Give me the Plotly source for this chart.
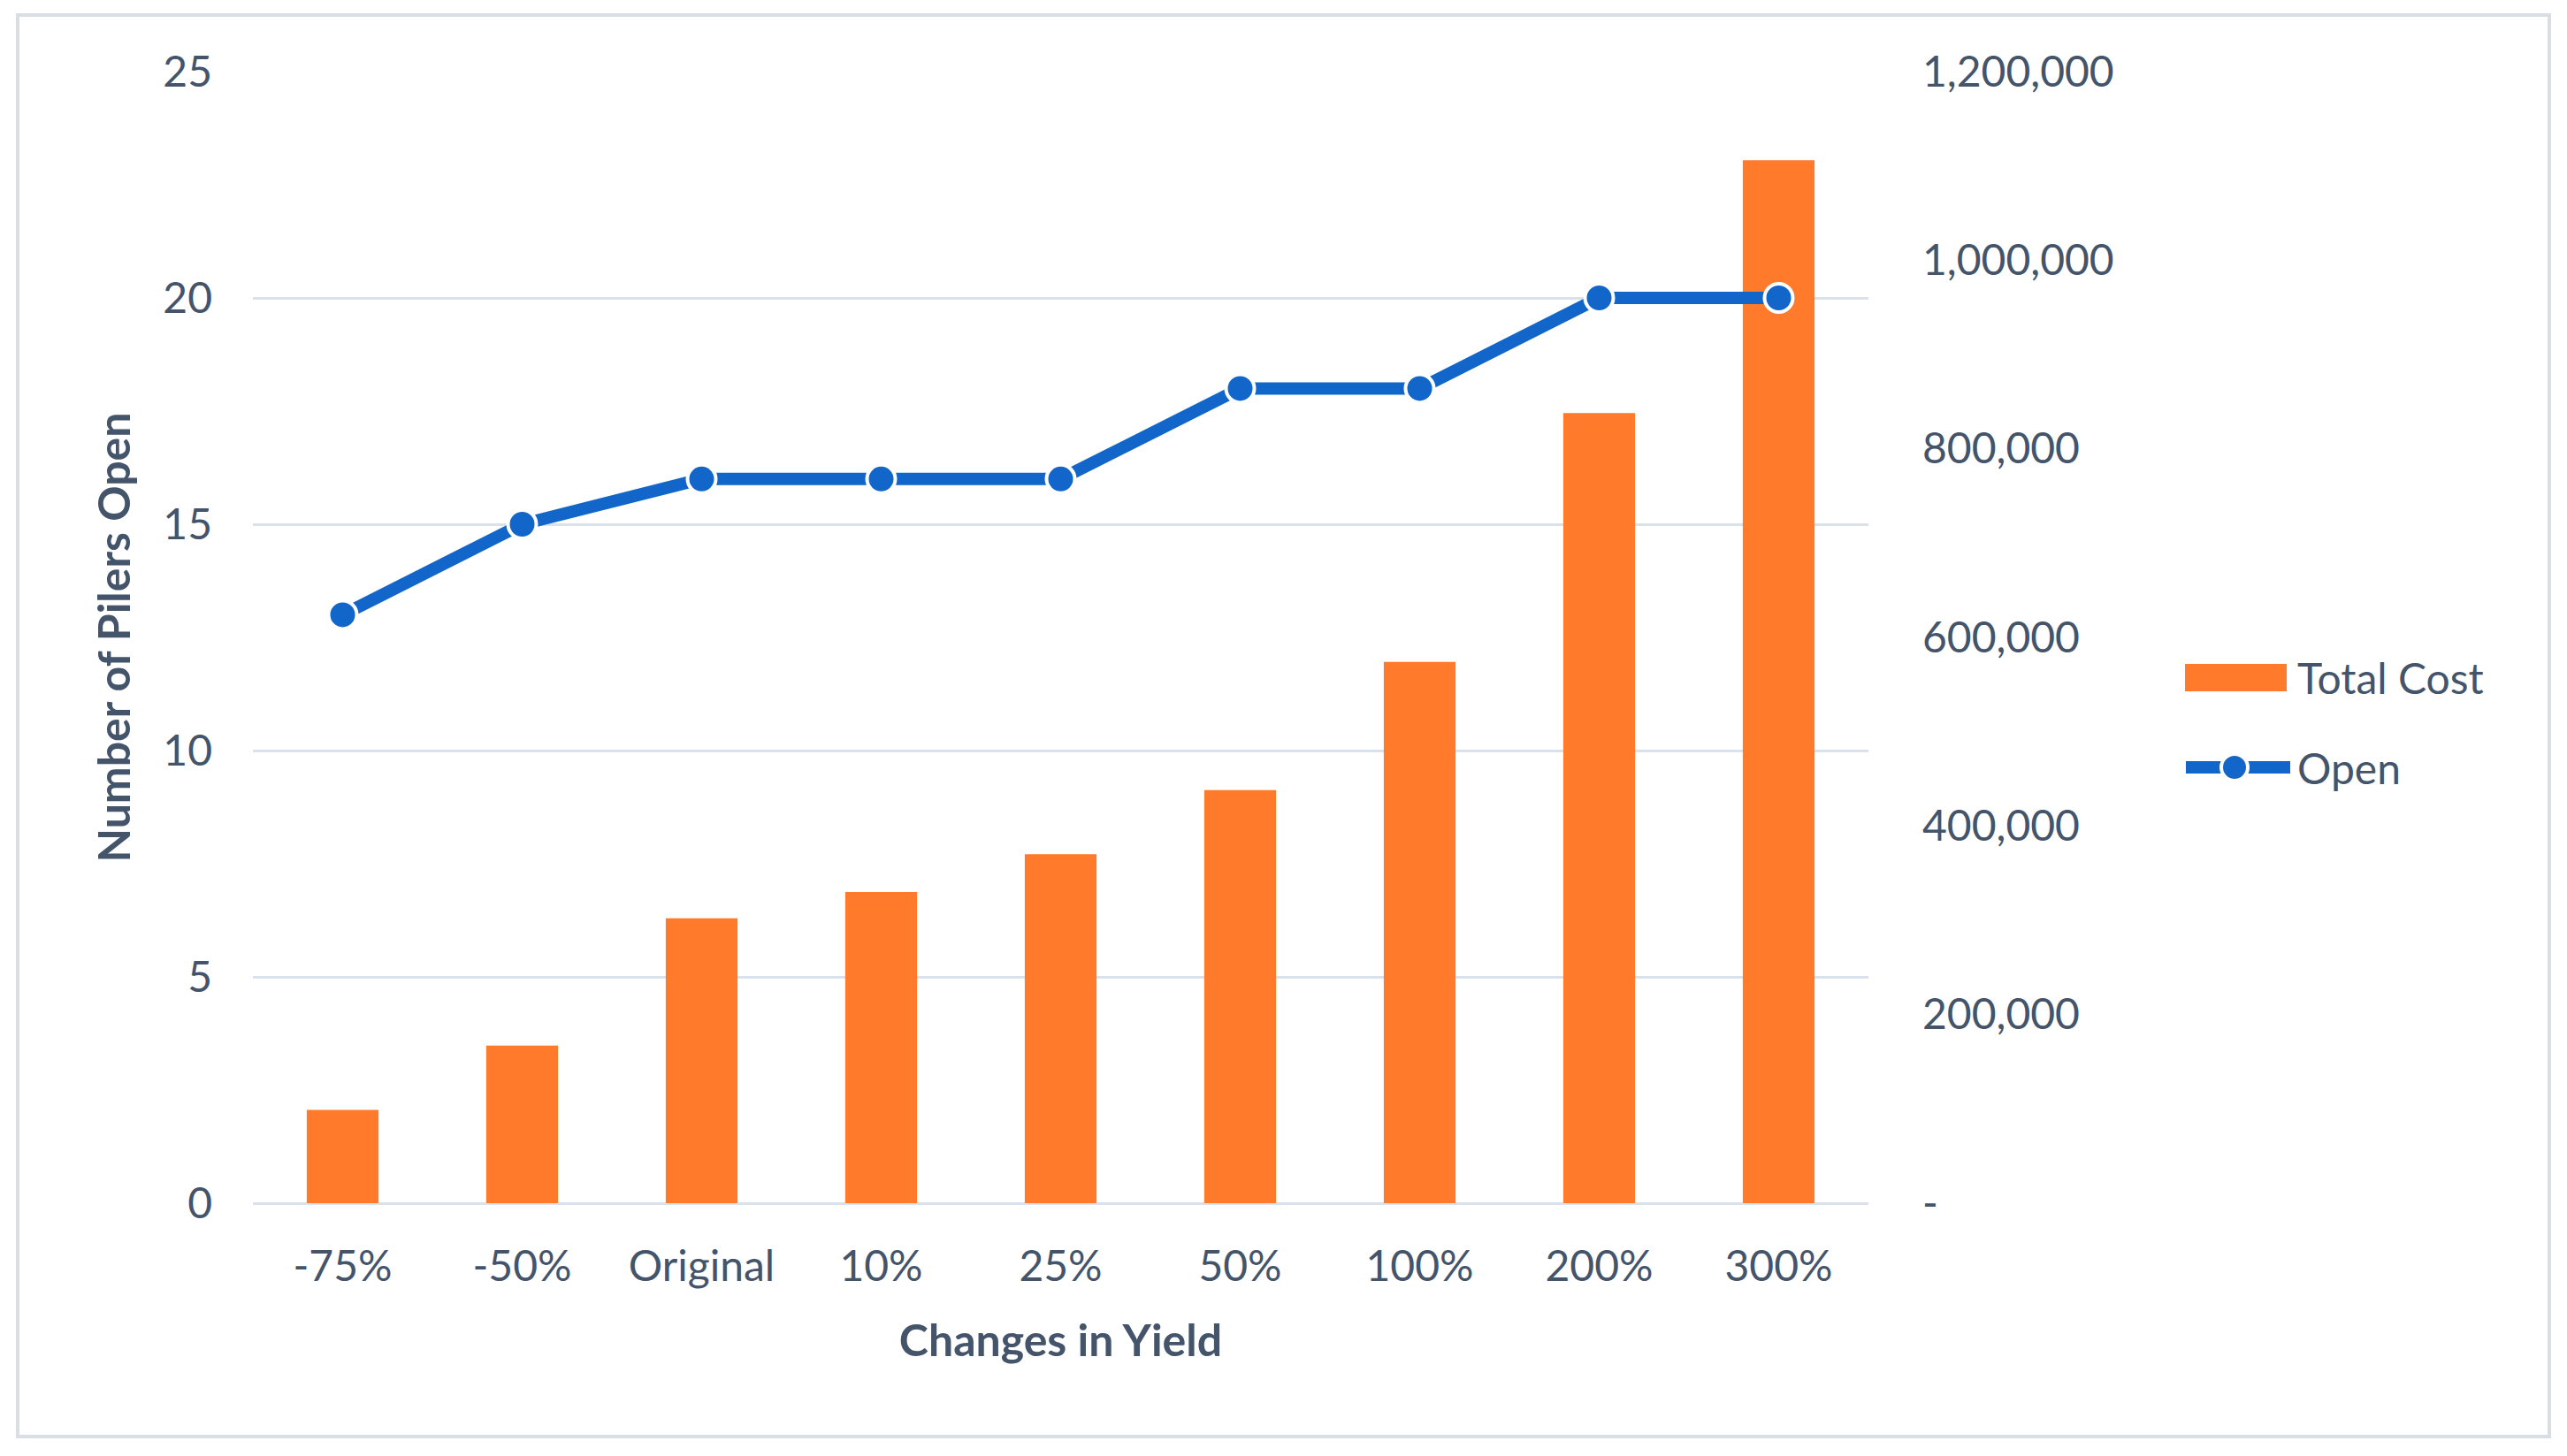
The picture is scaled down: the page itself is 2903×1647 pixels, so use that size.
import plotly.graph_objects as go

categories = ["-75%", "-50%", "Original", "10%", "25%", "50%", "100%", "200%", "300%"]
total_cost = [99000, 167000, 302000, 330000, 370000, 438000, 574000, 838000, 1106000]
pilers_open = [13, 15, 16, 16, 16, 18, 18, 20, 20]

cost_ticks = [0, 200000, 400000, 600000, 800000, 1000000, 1200000]
cost_tick_labels = ["-", "200,000", "400,000", "600,000", "800,000", "1,000,000", "1,200,000"]

W, H = 2903, 1647
OFF = 10  # page offset seen in the screenshot
# plot area in reference pixels
X0, X1, Y0, Y1 = 288, 2115, 83, 1363
L, R, T, B = X0 - OFF, W - X1 + OFF, Y0 - OFF, H - Y1 + OFF
TXT = "#44546A"
GRID = "#D9E1EA"
ORANGE = "#FF7A2A"
BLUE = "#1366C9"
FONT = "Lato, 'Open Sans', sans-serif"


def px_x(x):
    return (x - X0) / (X1 - X0)


def px_y(y):
    return (Y1 - y) / (Y1 - Y0)


fig = go.Figure()

fig.add_trace(go.Bar(
    x=categories,
    y=total_cost,
    name="Total Cost",
    marker=dict(color=ORANGE, line=dict(width=0)),
    yaxis="y",
))

fig.add_trace(go.Scatter(
    x=categories,
    y=pilers_open,
    name="Open",
    mode="lines+markers",
    line=dict(color=BLUE, width=14),
    marker=dict(color=BLUE, size=32, line=dict(color="white", width=4)),
    yaxis="y2",
))

fig.update_layout(
    width=W,
    height=H,
    margin=dict(l=L, r=R, t=T, b=B, autoexpand=False),
    paper_bgcolor="white",
    plot_bgcolor="white",
    font=dict(family=FONT, size=48, color=TXT),
    bargap=0.6,
    showlegend=False,
    xaxis=dict(
        type="category",
        range=[-0.5, len(categories) - 0.5],
        showgrid=False,
        showline=False,
        ticks="",
        ticklabelstandoff=39,
        tickfont=dict(size=48, color=TXT),
        title=dict(text="<b>Changes in Yield</b>", font=dict(size=50, color=TXT), standoff=40),
    ),
    yaxis=dict(
        side="right",
        range=[0, 1200000],
        tickvals=cost_ticks,
        ticktext=cost_tick_labels,
        showgrid=False,
        zeroline=False,
        showline=False,
        ticks="",
        ticklabelstandoff=60,
        tickfont=dict(size=48, color=TXT),
    ),
    yaxis2=dict(
        overlaying="y",
        side="left",
        range=[0, 25],
        dtick=5,
        showgrid=True,
        gridcolor=GRID,
        gridwidth=3,
        zeroline=True,
        zerolinecolor=GRID,
        zerolinewidth=3,
        showline=False,
        ticks="",
        ticklabelstandoff=45,
        tickfont=dict(size=48, color=TXT),
        title=dict(text="<b>Number of Pilers Open</b>", font=dict(size=50, color=TXT), standoff=20),
    ),
)

# outer chart border
fig.add_shape(
    type="rect", xref="paper", yref="paper",
    x0=px_x(22), x1=px_x(2885), y0=px_y(1627), y1=px_y(19),
    line=dict(color="#D9DEE5", width=4),
    fillcolor="rgba(0,0,0,0)", layer="below",
)

# legend drawn by hand so the bar swatch is a wide block like the original
fig.add_shape(
    type="rect", xref="paper", yref="paper",
    x0=px_x(2473), x1=px_x(2588), y0=px_y(784), y1=px_y(753),
    line=dict(width=0), fillcolor=ORANGE,
)
fig.add_shape(
    type="line", xref="paper", yref="paper",
    x0=px_x(2474), x1=px_x(2592), y0=px_y(870), y1=px_y(870),
    line=dict(color=BLUE, width=14),
)
fig.add_shape(
    type="circle", xref="paper", yref="paper",
    x0=px_x(2514), x1=px_x(2544), y0=px_y(885), y1=px_y(855),
    line=dict(color="white", width=4), fillcolor=BLUE,
)
fig.add_annotation(
    text="Total Cost", xref="paper", yref="paper",
    x=px_x(2598), y=px_y(768), xanchor="left", yanchor="middle",
    showarrow=False, font=dict(size=48, color=TXT),
)
fig.add_annotation(
    text="Open", xref="paper", yref="paper",
    x=px_x(2598), y=px_y(870), xanchor="left", yanchor="middle",
    showarrow=False, font=dict(size=48, color=TXT),
)

fig.write_html("out.html")
